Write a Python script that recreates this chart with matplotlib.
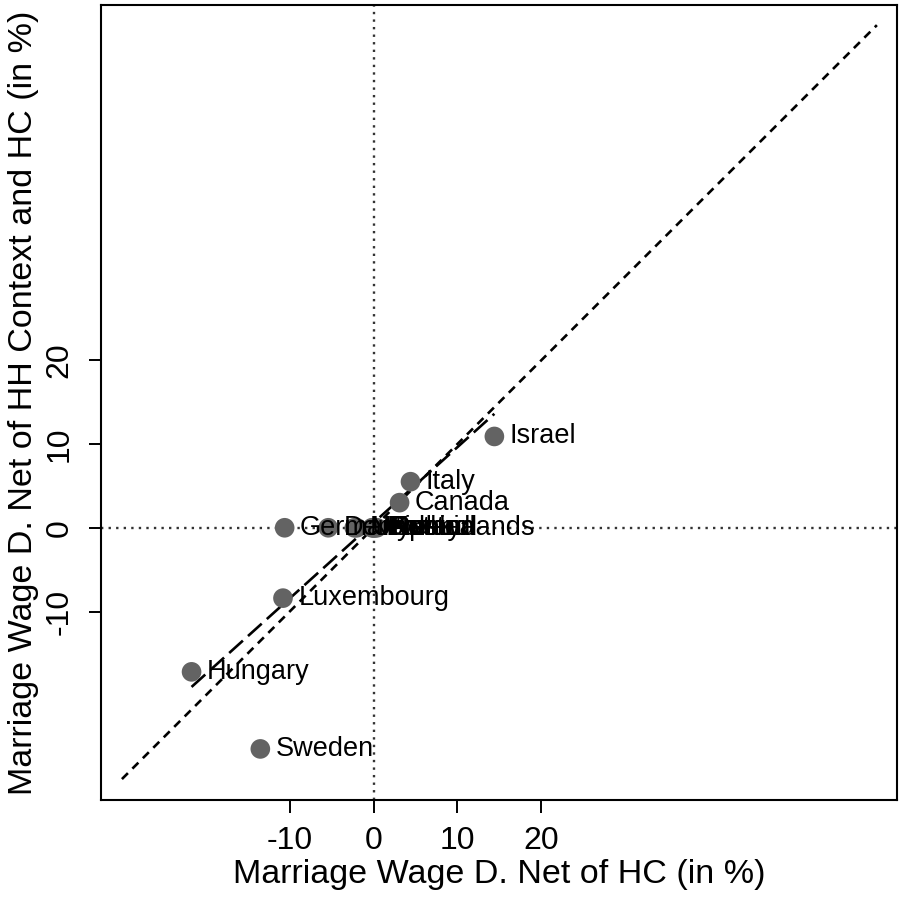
"""Marriage wage differential: net of HC vs net of HH context and HC"""
import matplotlib
matplotlib.use("Agg")
import matplotlib.pyplot as plt
import numpy as np

plt.rcParams['font.family'] = ['Liberation Sans', 'DejaVu Sans']
plt.rcParams['axes.unicode_minus'] = False

# country estimates (in %)
countries = ["Israel", "Italy", "Canada", "Germany", "Denmark", "Norway", "UK",
             "Poland", "Finland", "Austria", "Spain", "Netherlands",
             "Luxembourg", "Hungary", "Sweden"]
net_hc = [14.4, 4.4, 3.1, -10.6, -5.4, -2.3, -2.0,
          -0.2, 0.0, 0.2, 0.4, 0.0,
          -10.8, -21.7, -13.5]
net_hh_hc = [10.9, 5.5, 3.0, 0.0, 0.0, 0.0, 0.0,
             0.0, 0.0, 0.0, 0.0, 0.0,
             -8.4, -17.2, -26.4]

diag_range = [-30, 60]
fit_x = [-21.7, 14.4]
fit_y = [-19.0, 13.6]
ticks = [-10, 0, 10, 20]

fig = plt.figure(figsize=(8.99, 8.99), dpi=100)
ax = fig.add_axes([0.1123, 0.1101, 0.8855, 0.8843])

ax.axvline(0, color='#333333', linestyle=(0, (1, 2.2)), linewidth=1.7, zorder=1)
ax.axhline(0, color='#333333', linestyle=(0, (1, 2.2)), linewidth=1.7, zorder=1)
ax.plot(diag_range, diag_range, color='black', linestyle=(0, (3.2, 2.4)),
        linewidth=1.9, zorder=2)
ax.plot(fit_x, fit_y, color='black', linestyle=(0, (7, 2.6)),
        linewidth=1.9, zorder=2)

ax.scatter(net_hc, net_hh_hc, s=200, color='#636363', edgecolors='none', zorder=3)
for name, x, y in zip(countries, net_hc, net_hh_hc):
    ax.annotate(name, (x, y), xytext=(11, 0), textcoords='offset points',
                ha='left', va='center', fontsize=19.5, zorder=4)

ax.set_xlim(-32.5, 62.4)
ax.set_ylim(-32.5, 62.4)
ax.set_xticks(ticks)
ax.set_yticks(ticks)
ax.tick_params(axis='both', length=9, width=1.4, labelsize=23, pad=10)
ax.tick_params(axis='y', labelrotation=90)
for lbl in ax.get_yticklabels():
    lbl.set_va('center')
for sp in ax.spines.values():
    sp.set_linewidth(1.5)

ax.set_xlabel("Marriage Wage D. Net of HC (in %)", fontsize=24.5, labelpad=2)
ax.set_ylabel("Marriage Wage D. Net of HH Context and HC (in %)", fontsize=24.5,
              labelpad=4)

fig.savefig("out.png", dpi=100)
